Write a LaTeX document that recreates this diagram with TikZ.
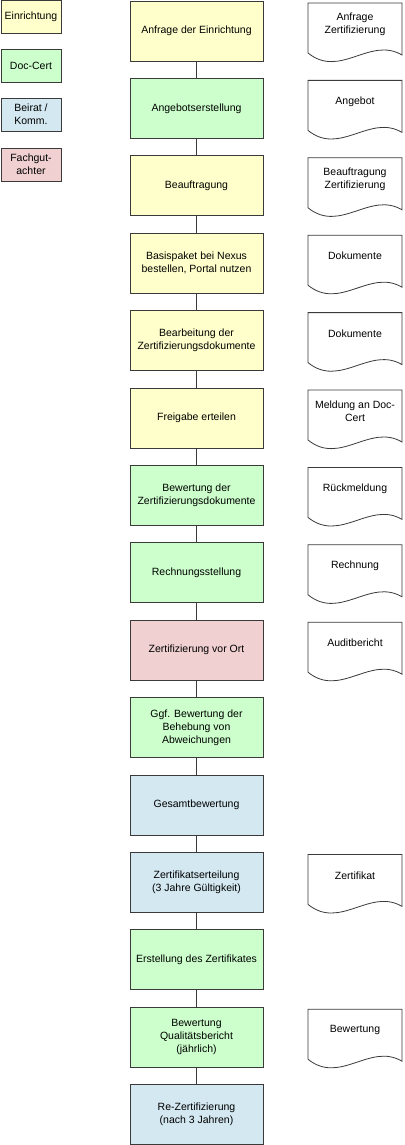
\documentclass[tikz,border=0pt]{standalone}
\usepackage{fontspec}
\setmainfont{Liberation Sans}
\usepackage{tikz}
\usetikzlibrary{positioning}
\usepackage{xcolor}

\definecolor{einrichtung}{HTML}{FFFFCC}
\definecolor{doccert}{HTML}{CCFFCC}
\definecolor{beirat}{HTML}{D3E8F0}
\definecolor{gutachter}{HTML}{F0D0D0}
\definecolor{rahmen}{HTML}{3A3A3A}

\tikzset{
  taskbox/.style={draw=rahmen, line width=0.9pt, minimum width=133pt,
    minimum height=60pt, align=center, inner sep=2pt, outer sep=0pt},
  keybox/.style={draw=rahmen, line width=0.9pt, minimum width=60pt,
    minimum height=33pt, align=center, inner sep=1pt, outer sep=0pt},
  docshape/.style={draw=rahmen, line width=0.8pt, fill=white},
  doctext/.style={align=center, inner sep=0pt},
  link/.style={draw=rahmen, line width=0.9pt}
}

\begin{document}
\begin{tikzpicture}[x=1pt, y=-1pt,
    every node/.style={font=\fontsize{10.5pt}{13pt}\selectfont}]
    \useasboundingbox (0,0) rectangle (404,1145);

    % Legend
    \node[keybox, fill=einrichtung] (keyA) at (31,16.5) {Einrichtung};
    \node[keybox, fill=doccert] (keyB) at (31,65.5) {Doc-Cert};
    \node[keybox, fill=beirat] (keyC) at (31,114.5) {Beirat /\\Komm.};
    \node[keybox, fill=gutachter] (keyD) at (31,164.5) {Fachgut-\\achter};

    % Process steps
    \node[taskbox, fill=einrichtung] (anfrage) at (196.5,31) {Anfrage der Einrichtung};
    \node[taskbox, fill=doccert] (angebot) at (196.5,108.4) {Angebotserstellung};
    \node[taskbox, fill=einrichtung] (auftrag) at (196.5,185.8) {Beauftragung};
    \node[taskbox, fill=einrichtung] (basis) at (196.5,263.2)
      {Basispaket bei Nexus\\bestellen, Portal nutzen};
    \node[taskbox, fill=einrichtung] (bearbeitung) at (196.5,340.6)
      {Bearbeitung der\\Zertifizierungsdokumente};
    \node[taskbox, fill=einrichtung] (freigabe) at (196.5,418) {Freigabe erteilen};
    \node[taskbox, fill=doccert] (bewertung) at (196.5,495.4)
      {Bewertung der\\Zertifizierungsdokumente};
    \node[taskbox, fill=doccert] (rechnung) at (196.5,572.8) {Rechnungsstellung};
    \node[taskbox, fill=gutachter] (vorort) at (196.5,650.2) {Zertifizierung vor Ort};
    \node[taskbox, fill=doccert] (behebung) at (196.5,727.6)
      {Ggf. Bewertung der\\Behebung von\\Abweichungen};
    \node[taskbox, fill=beirat] (gesamt) at (196.5,805) {Gesamtbewertung};
    \node[taskbox, fill=beirat] (erteilung) at (196.5,882.4)
      {Zertifikatserteilung\\(3 Jahre Gültigkeit)};
    \node[taskbox, fill=doccert] (erstellung) at (196.5,959.8) {Erstellung des Zertifikates};
    \node[taskbox, fill=doccert] (qbericht) at (196.5,1037.2)
      {Bewertung\\Qualitätsbericht\\(jährlich)};
    \node[taskbox, fill=beirat] (rezert) at (196.5,1114.6)
      {Re-Zertifizierung\\(nach 3 Jahren)};

    % Connectors
    \foreach \a/\b in {anfrage/angebot, angebot/auftrag, auftrag/basis,
        basis/bearbeitung, bearbeitung/freigabe, freigabe/bewertung,
        bewertung/rechnung, rechnung/vorort, vorort/behebung,
        behebung/gesamt, gesamt/erteilung, erteilung/erstellung,
        erstellung/qbericht, qbericht/rezert}
      \draw[link] (\a) -- (\b);

    % Documents
    \foreach \i/\txt in {0/{Anfrage\\Zertifizierung}, 1/Angebot,
        2/{Beauftragung\\Zertifizierung}, 3/Dokumente, 4/Dokumente,
        5/{Meldung an Doc-\\Cert}, 6/Rückmeldung, 7/Rechnung,
        8/Auditbericht, 11/Zertifikat, 13/Bewertung} {
      \pgfmathsetmacro{\docy}{3+77.4*\i}
      \draw[docshape] (308,\docy) -- (402,\docy) -- (402,\docy+52)
        .. controls (370,\docy+33) and (340,\docy+76) .. (308,\docy+50) -- cycle;
      \node[doctext] (doc\i) at (355,\docy+21) {\txt};
    }
  \end{tikzpicture}
\end{document}
